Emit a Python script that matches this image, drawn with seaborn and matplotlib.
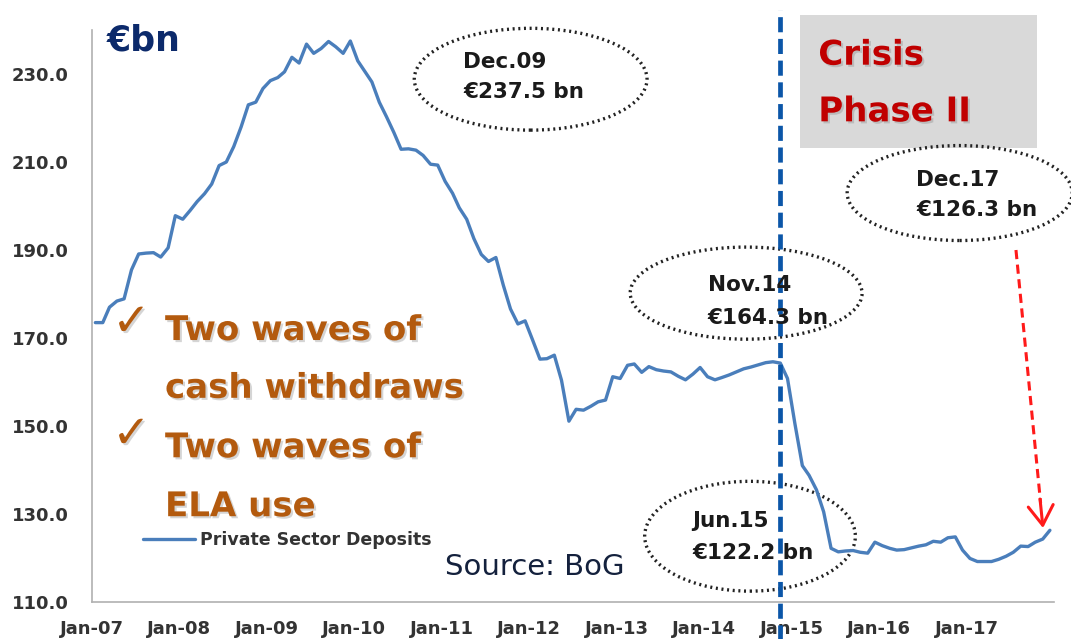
import numpy as np
import pandas as pd
import matplotlib
matplotlib.use("Agg")
import matplotlib.pyplot as plt
import matplotlib.patches as mpatches
import matplotlib.patheffects as pe
import seaborn as sns

# private sector deposits, EUR bn, monthly Jan-07 .. Dec-17
dep_2007 = [173.5, 173.5, 177.0, 178.4, 178.9, 185.5, 189.1, 189.3, 189.4, 188.4, 190.5, 197.8]
dep_2008 = [197.0, 199.0, 201.0, 202.8, 205.0, 209.2, 210.0, 213.5, 218.0, 223.0, 223.6, 226.7]
dep_2009 = [228.5, 229.2, 230.5, 233.8, 232.5, 236.8, 234.7, 235.8, 237.4, 236.2, 234.7, 237.5]
dep_2010 = [233.0, 230.5, 228.2, 223.6, 220.3, 216.7, 212.9, 213.0, 212.7, 211.5, 209.5, 209.3]
dep_2011 = [205.6, 202.9, 199.6, 197.0, 192.6, 189.0, 187.4, 188.3, 182.0, 176.6, 173.2, 173.9]
dep_2012 = [169.6, 165.2, 165.3, 166.1, 160.4, 151.1, 153.8, 153.6, 154.5, 155.5, 155.9, 161.2]
dep_2013 = [160.8, 163.8, 164.1, 162.2, 163.5, 162.8, 162.5, 162.3, 161.3, 160.5, 161.8, 163.3]
dep_2014 = [161.2, 160.5, 161.0, 161.6, 162.3, 163.0, 163.4, 163.9, 164.4, 164.6, 164.3, 160.8]
dep_2015 = [150.5, 141.0, 138.8, 135.5, 130.5, 122.2, 121.4, 121.6, 121.7, 121.3, 121.1, 123.6]
dep_2016 = [122.8, 122.2, 121.8, 121.9, 122.3, 122.7, 123.0, 123.8, 123.6, 124.6, 124.8, 121.8]
dep_2017 = [119.9, 119.2, 119.2, 119.2, 119.7, 120.4, 121.3, 122.7, 122.6, 123.6, 124.3, 126.3]

deposits = dep_2007 + dep_2008 + dep_2009 + dep_2010 + dep_2011 + dep_2012 + \
    dep_2013 + dep_2014 + dep_2015 + dep_2016 + dep_2017
months = pd.date_range("2007-01-01", periods=len(deposits), freq="MS") + pd.Timedelta(days=14)

year_ticks = pd.date_range("2007-01-01", "2018-01-01", freq="YS")
x_labels = ["Jan-07", "Jan-08", "Jan-09", "Jan-10", "Jan-11", "Jan-12",
            "Jan-13", "Jan-14", "Jan-15", "Jan-16", "Jan-17", ""]
y_ticks = [110, 130, 150, 170, 190, 210, 230]

callouts = [("Dec.09", "€237.5 bn"), ("Nov.14", "€164.3 bn"),
            ("Jun.15", "€122.2 bn"), ("Dec.17", "€126.3 bn")]

df = pd.DataFrame({"month": months, "deposits": deposits})

sns.set_theme(style="white")
plt.rcParams["font.family"] = ["DejaVu Sans"]

fig = plt.figure(figsize=(10.71, 6.39), dpi=100)
ax = fig.add_axes([0.0859, 0.0579, 0.8982, 0.8951])

sns.lineplot(data=df, x="month", y="deposits", ax=ax, color="#4a7ebb",
             linewidth=2.4, label="Private Sector Deposits", zorder=4)

ax.set_xlim(pd.Timestamp("2007-01-01"), pd.Timestamp("2018-01-01"))
ax.set_ylim(110, 240)
ax.set_xticks(year_ticks)
ax.set_xticklabels(x_labels)
ax.set_yticks(y_ticks)
ax.set_yticklabels([f"{v:.1f}" for v in y_ticks])
ax.set_xlabel("")
ax.set_ylabel("")
for lab in ax.get_xticklabels() + ax.get_yticklabels():
    lab.set_fontweight("bold")
    lab.set_fontsize(13)
    lab.set_color("#333333")
ax.tick_params(axis="both", direction="out", length=6, width=1, color="#b0b0b0")
ax.tick_params(axis="y", pad=11)
ax.tick_params(axis="x", pad=7)
sns.despine(ax=ax)
for s in ["left", "bottom"]:
    ax.spines[s].set_color("#b0b0b0")
    ax.spines[s].set_linewidth(1.2)

ax.legend(loc="center left", bbox_to_anchor=(0.053, 0.108), frameon=False,
          borderpad=0, borderaxespad=0, handlelength=3.0, handletextpad=0.3,
          prop={"weight": "bold", "size": 12.5})
for t in ax.get_legend().get_texts():
    t.set_color("#333333")

# crisis phase II marker
ax.axvline(pd.Timestamp("2014-11-15"), ymin=-0.07, ymax=1.035, clip_on=False,
           color="#0b56a8", linewidth=3.4, linestyle=(0, (3.2, 1.4)), zorder=5)

# unit label
ax.text(0.0156, 0.965, "€bn", transform=ax.transAxes, fontsize=25, fontweight="bold",
        color="#0c2a6b", va="baseline", ha="left")

# dotted call-outs
ell_pos = [(0.456, 0.914, 0.242, 0.178), (0.680, 0.540, 0.241, 0.161),
           (0.684, 0.115, 0.219, 0.192), (0.902, 0.715, 0.234, 0.166)]
txt_pos = [(0.386, 0.944, 0.892), (0.640, 0.555, 0.497),
           (0.624, 0.142, 0.086), (0.857, 0.738, 0.685)]
for (cx, cy, w, h), (tx, ty1, ty2), (t1, t2) in zip(ell_pos, txt_pos, callouts):
    ax.add_patch(mpatches.Ellipse((cx, cy), w, h, transform=ax.transAxes, fill=False,
                                  edgecolor="#222222", linewidth=2.4, linestyle=(0, (0.6, 1.1)),
                                  clip_on=False, zorder=3))
    ax.text(tx, ty1, t1, transform=ax.transAxes, fontsize=15.5, fontweight="bold",
            color="#1a1a1a", va="center", ha="left", zorder=6)
    ax.text(tx, ty2, t2, transform=ax.transAxes, fontsize=15.5, fontweight="bold",
            color="#1a1a1a", va="center", ha="left", zorder=6)

# crisis box
ax.add_patch(mpatches.Rectangle((0.736, 0.794), 0.246, 0.232, transform=ax.transAxes,
                                facecolor="#d9d9d9", edgecolor="none", clip_on=False, zorder=2))
shadow = [pe.withSimplePatchShadow(offset=(1.5, -1.5), shadow_rgbFace="#777777", alpha=0.3)]
ax.text(0.755, 0.956, "Crisis", transform=ax.transAxes, fontsize=24.5, fontweight="bold",
        color="#c00000", va="center", ha="left", path_effects=shadow, zorder=6)
ax.text(0.755, 0.857, "Phase II", transform=ax.transAxes, fontsize=24.5, fontweight="bold",
        color="#c00000", va="center", ha="left", path_effects=shadow, zorder=6)

# bullet text
orange = "#b35a0e"
bullets = [("Two waves of", 0.458), ("cash withdraws", 0.357),
           ("Two waves of", 0.253), ("ELA use", 0.150)]
for txt, yb in bullets:
    ax.text(0.0759, yb, txt, transform=ax.transAxes, fontsize=24.5, fontweight="bold",
            color=orange, va="baseline", ha="left", path_effects=shadow, zorder=6)
for yb in [0.466, 0.270]:
    ax.text(0.021, yb, "✓", transform=ax.transAxes, fontsize=33, color=orange,
            va="baseline", ha="left", path_effects=shadow, zorder=6)

ax.text(0.367, 0.047, "Source: BoG", transform=ax.transAxes, fontsize=21,
        color="#14213d", va="baseline", ha="left", zorder=6)

# red dashed pointer to latest value
ax.plot([0.9605, 0.9861], [0.6154, 0.1731], transform=ax.transAxes, color="#ff1a1a",
        linewidth=2.2, linestyle=(0, (3, 1.8)), clip_on=False, zorder=6)
ax.annotate("", xy=(0.9886, 0.1294), xytext=(0.9855, 0.1800), xycoords="axes fraction",
            arrowprops=dict(arrowstyle="->,head_length=0.7,head_width=0.45", color="#ff1a1a",
                            lw=2.2, mutation_scale=20, shrinkA=0, shrinkB=0), zorder=6)

fig.savefig("out.png", dpi=100)
